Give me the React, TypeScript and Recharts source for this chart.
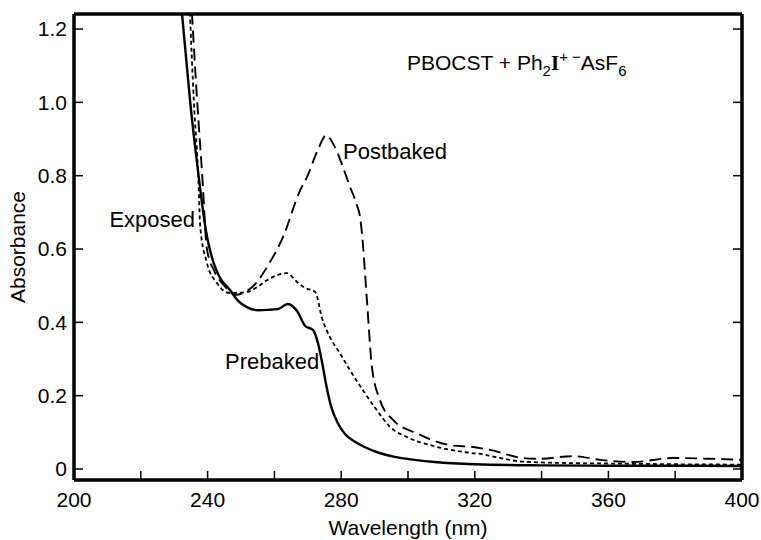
import { LineChart, Line, XAxis, YAxis } from 'recharts';

// wavelength (nm) / absorbance
const prebakedWl = [232.3, 234.8, 237.3, 239.5, 241.8, 243.5, 246.7, 249, 252, 255, 258, 261, 264, 267, 269.2, 271.6, 273, 274.3, 275.5, 277, 279, 281, 284, 287, 291, 296, 302, 308, 320, 340, 360, 380, 400];
const prebakedAbs = [1.245, 1.0, 0.8, 0.65, 0.562, 0.525, 0.488, 0.46, 0.44, 0.433, 0.434, 0.436, 0.45, 0.428, 0.39, 0.379, 0.345, 0.29, 0.23, 0.17, 0.125, 0.097, 0.075, 0.06, 0.045, 0.033, 0.025, 0.019, 0.013, 0.01, 0.009, 0.009, 0.008];

const exposedWl = [234.7, 235.9, 237.2, 237.8, 239.8, 242.8, 246.7, 251.8, 255, 257.8, 263.8, 266.8, 269.2, 272.2, 274.3, 276.6, 279.6, 282.6, 286.5, 290.7, 294.6, 299.7, 307.5, 317.7, 322.5, 327.5, 334.4, 349.4, 360, 380, 400];
const exposedAbs = [1.245, 1.0, 0.8, 0.66, 0.562, 0.507, 0.48, 0.483, 0.497, 0.515, 0.534, 0.51, 0.494, 0.483, 0.41, 0.36, 0.316, 0.27, 0.215, 0.16, 0.115, 0.087, 0.063, 0.045, 0.04, 0.03, 0.02, 0.016, 0.015, 0.013, 0.012];

const postbakedWl = [235.3, 236.9, 238.4, 239.8, 242, 245, 248.4, 250.6, 254.8, 257.8, 262.6, 267.7, 269.8, 273, 275.5, 278, 280.5, 282.6, 284.7, 285.6, 286.2, 287.7, 289.2, 291.6, 295.5, 302.7, 312.6, 319.5, 324.6, 334.4, 339.5, 349.4, 357.5, 367.4, 379.3, 390, 400];
const postbakedAbs = [1.245, 1.0, 0.8, 0.6, 0.54, 0.5, 0.475, 0.48, 0.51, 0.551, 0.633, 0.76, 0.797, 0.87, 0.91, 0.88, 0.824, 0.77, 0.72, 0.69, 0.644, 0.461, 0.278, 0.188, 0.134, 0.097, 0.065, 0.06, 0.052, 0.03, 0.028, 0.035, 0.025, 0.019, 0.03, 0.028, 0.025];

const xTicks = [200, 220, 240, 260, 280, 300, 320, 340, 360, 380, 400];
const yTicks = [0, 0.2, 0.4, 0.6, 0.8, 1.0, 1.2];

const toPoints = (wl: number[], abs: number[]) => wl.map((x, i) => ({ x, y: abs[i] }));

const prebaked = toPoints(prebakedWl, prebakedAbs);
const exposed = toPoints(exposedWl, exposedAbs);
const postbaked = toPoints(postbakedWl, postbakedAbs);

const FONT = '"Liberation Sans", Arial, Helvetica, sans-serif';
const axisLine = { stroke: '#000', strokeWidth: 3.5 };
const tickLine = { stroke: '#000', strokeWidth: 1.5 };
const tickFont = { fontSize: 21, fill: '#000', fontFamily: FONT };
const noLabel = () => <g />;

export default function App() {
  return (
    <div style={{ position: 'absolute', left: 0, top: 0, width: 761, height: 540, background: '#fff' }}>
      <LineChart width={761} height={540} margin={{ top: 13, right: 18, bottom: 0, left: 14 }}>
        <XAxis
          xAxisId="b"
          type="number"
          dataKey="x"
          domain={[200, 400]}
          ticks={xTicks}
          height={60}
          axisLine={axisLine}
          tickLine={tickLine}
          tickSize={-9}
          tickMargin={21}
          tick={tickFont}
          tickFormatter={(v: number) => (v % 40 === 0 ? String(v) : '')}
          label={{ value: 'Wavelength (nm)', position: 'insideBottom', offset: 5, fontSize: 21, fill: '#000', fontFamily: FONT }}
        />
        <XAxis
          xAxisId="t"
          orientation="top"
          type="number"
          dataKey="x"
          domain={[200, 400]}
          ticks={xTicks}
          height={1}
          axisLine={axisLine}
          tickLine={tickLine}
          tickSize={-9}
          tick={noLabel}
        />
        <YAxis
          yAxisId="l"
          type="number"
          domain={[-0.03, 1.241]}
          allowDataOverflow
          ticks={yTicks}
          width={60}
          axisLine={axisLine}
          tickLine={tickLine}
          tickSize={-9}
          tickMargin={16}
          tick={tickFont}
          tickFormatter={(v: number) => (v === 0 ? '0' : v.toFixed(1))}
          label={{ value: 'Absorbance', angle: -90, position: 'insideLeft', offset: 4, fontSize: 21, fill: '#000', fontFamily: FONT, style: { textAnchor: 'middle' } }}
        />
        <YAxis
          yAxisId="r"
          orientation="right"
          type="number"
          domain={[-0.03, 1.241]}
          allowDataOverflow
          ticks={yTicks}
          width={1}
          axisLine={axisLine}
          tickLine={tickLine}
          tickSize={-9}
          tick={noLabel}
        />
        <Line xAxisId="b" yAxisId="l" data={prebaked} dataKey="y" type="monotone" stroke="#000" strokeWidth={2.4} dot={false} isAnimationActive={false} />
        <Line xAxisId="b" yAxisId="l" data={exposed} dataKey="y" type="monotone" stroke="#000" strokeWidth={1.8} strokeDasharray="4 3" dot={false} isAnimationActive={false} />
        <Line xAxisId="b" yAxisId="l" data={postbaked} dataKey="y" type="monotone" stroke="#000" strokeWidth={1.9} strokeDasharray="12 6" dot={false} isAnimationActive={false} />
      </LineChart>
      <svg width={761} height={540} style={{ position: 'absolute', left: 0, top: 0, pointerEvents: 'none' }}>
        <g fontFamily={FONT} fontSize={22} fill="#000">
          <text x={407} y={70} fontSize={21}>
            PBOCST + Ph<tspan fontSize={15} dy={6}>2</tspan>
            <tspan dy={-6} fontFamily='"Liberation Serif", serif' fontWeight="bold">I</tspan>
            <tspan fontSize={15} dy={-8}>+ −</tspan>
            <tspan dy={8}>AsF</tspan>
            <tspan fontSize={15} dy={6}>6</tspan>
          </text>
          <text x={343} y={159}>Postbaked</text>
          <text x={195} y={227} textAnchor="end">Exposed</text>
          <text x={225} y={369}>Prebaked</text>
        </g>
      </svg>
    </div>
  );
}
